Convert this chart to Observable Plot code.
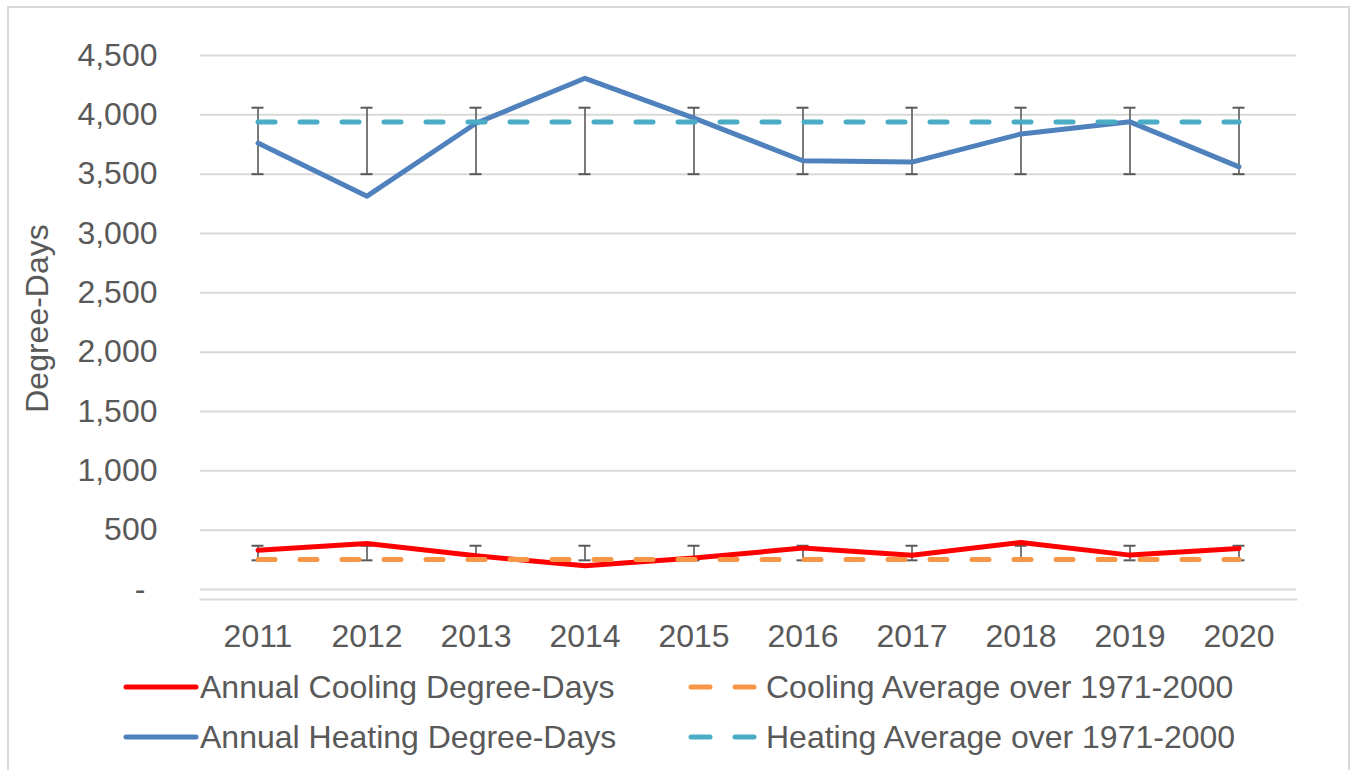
<!DOCTYPE html>
<html><head><meta charset="utf-8">
<script src="https://cdn.jsdelivr.net/npm/d3@7"></script>
<script src="https://cdn.jsdelivr.net/npm/@observablehq/plot@0.6"></script>
<style>
body{margin:0;background:#fff;font-family:"Liberation Sans",Arial,sans-serif;color:#595959;width:1354px;height:770px;overflow:hidden;position:relative}
#frame{position:absolute;left:7px;top:6px;width:1343px;height:790px;border:2px solid #D9D9D9;box-sizing:border-box}
#chart{position:absolute;left:0;top:0}
.leg{position:absolute;font-size:32px;line-height:36px;white-space:nowrap;color:#595959}
.sw{position:absolute}
</style></head><body>
<div id="frame"></div>
<div id="chart"></div>
<div id="legend"></div>
<script>
const years = ["2011","2012","2013","2014","2015","2016","2017","2018","2019","2020"];
const coolingDD = [332, 388, 284, 201, 266, 349, 288, 397, 290, 346];
const heatingDD = [3762, 3315, 3929, 4308, 3972, 3613, 3602, 3839, 3941, 3562];
const coolingAvg = [254, 254, 254, 254, 254, 254, 254, 254, 254, 254];
const heatingAvg = [3940, 3940, 3940, 3940, 3940, 3940, 3940, 3940, 3940, 3940];
const coolingErrLow = [246, 246, 246, 246, 246, 246, 246, 246, 246, 246];
const coolingErrHigh = [369, 369, 369, 369, 369, 369, 369, 369, 369, 369];
const heatingErrLow = [3500, 3500, 3500, 3500, 3500, 3500, 3500, 3500, 3500, 3500];
const heatingErrHigh = [4060, 4060, 4060, 4060, 4060, 4060, 4060, 4060, 4060, 4060];
const yTicks = [500, 1000, 1500, 2000, 2500, 3000, 3500, 4000, 4500];
const seriesNames = ["Annual Cooling Degree-Days", "Cooling Average over 1971-2000", "Annual Heating Degree-Days", "Heating Average over 1971-2000"];
const seriesColors = ["#FF0000", "#F79646", "#4F81BD", "#4BACC6"];
const yTitle = "Degree-Days";

const rows = years.map((year, i) => ({
  year,
  cool: coolingDD[i], heat: heatingDD[i],
  coolAvg: coolingAvg[i], heatAvg: heatingAvg[i],
  cLo: coolingErrLow[i], cHi: coolingErrHigh[i],
  hLo: heatingErrLow[i], hHi: heatingErrHigh[i]
}));

const errStyle = {stroke: "#595959", strokeWidth: 1.6};
const capStyle = {stroke: "#595959", strokeWidth: 2, insetLeft: 48.5, insetRight: 48.5};
const lineStyle = {strokeWidth: 5, strokeLinecap: "round", strokeLinejoin: "round"};
const dashStyle = {strokeWidth: 5, strokeLinecap: "round", strokeDasharray: "17,25"};
const fmt = d3.format(",");

const chart = Plot.plot({
  width: 1354,
  height: 660,
  marginLeft: 200,
  marginRight: 58,
  marginTop: 55,
  marginBottom: 61,
  style: {fontFamily: '"Liberation Sans", Arial, sans-serif', fontSize: "32px", color: "#595959", background: "transparent"},
  x: {type: "band", domain: years, padding: 0, label: null},
  y: {domain: [-84, 4500], label: null},
  marks: [
    Plot.ruleY([0, ...yTicks], {stroke: "#D9D9D9", strokeWidth: 2, strokeOpacity: 1}),
    Plot.frame({anchor: "bottom", stroke: "#D9D9D9", strokeWidth: 2}),
    Plot.ruleX(rows, {x: "year", y1: "hLo", y2: "hHi", ...errStyle}),
    Plot.tickY(rows, {x: "year", y: "hLo", ...capStyle}),
    Plot.tickY(rows, {x: "year", y: "hHi", ...capStyle}),
    Plot.ruleX(rows, {x: "year", y1: "cLo", y2: "cHi", ...errStyle}),
    Plot.tickY(rows, {x: "year", y: "cLo", ...capStyle}),
    Plot.tickY(rows, {x: "year", y: "cHi", ...capStyle}),
    Plot.line(rows, {x: "year", y: "heat", stroke: seriesColors[2], ...lineStyle}),
    Plot.line(rows, {x: "year", y: "cool", stroke: seriesColors[0], ...lineStyle}),
    Plot.line(rows, {x: "year", y: "heatAvg", stroke: seriesColors[3], ...dashStyle}),
    Plot.line(rows, {x: "year", y: "coolAvg", stroke: seriesColors[1], ...dashStyle}),
    Plot.axisX({tickSize: 0, tickPadding: 25, fontSize: 32, label: null}),
    Plot.axisY({ticks: yTicks, tickSize: 0, tickPadding: 43, tickFormat: fmt, fontSize: 32, label: null}),
    Plot.axisY({ticks: [0], tickSize: 0, tickPadding: 55, tickFormat: () => "-", fontSize: 32, label: null}),
    Plot.text([yTitle], {text: d => d, frameAnchor: "left", rotate: -90, dx: -163, dy: -9,
      fontSize: 32, fill: "#595959", textAnchor: "middle", lineAnchor: "middle"})
  ]
});
document.getElementById("chart").appendChild(chart);

// legend
const legend = document.getElementById("legend");
const items = [
  {name: seriesNames[0], color: seriesColors[0], dashed: false, sx: 120, tx: 200, cy: 687},
  {name: seriesNames[1], color: seriesColors[1], dashed: true, sx: 684, tx: 766, cy: 687},
  {name: seriesNames[2], color: seriesColors[2], dashed: false, sx: 120, tx: 200, cy: 737},
  {name: seriesNames[3], color: seriesColors[3], dashed: true, sx: 684, tx: 766, cy: 737}
];
for (const it of items) {
  const svg = d3.create("svg").attr("class", "sw").attr("width", 80).attr("height", 12)
    .style("left", it.sx + "px").style("top", (it.cy - 6) + "px");
  if (it.dashed) {
    svg.append("line").attr("x1", 7).attr("x2", 26).attr("y1", 6).attr("y2", 6)
      .attr("stroke", it.color).attr("stroke-width", 5).attr("stroke-linecap", "round");
    svg.append("line").attr("x1", 51).attr("x2", 70).attr("y1", 6).attr("y2", 6)
      .attr("stroke", it.color).attr("stroke-width", 5).attr("stroke-linecap", "round");
  } else {
    svg.append("line").attr("x1", 6).attr("x2", 76).attr("y1", 6).attr("y2", 6)
      .attr("stroke", it.color).attr("stroke-width", 5).attr("stroke-linecap", "round");
  }
  legend.appendChild(svg.node());
  const d = document.createElement("div");
  d.className = "leg";
  d.style.left = it.tx + "px";
  d.style.top = (it.cy - 18) + "px";
  d.textContent = it.name;
  legend.appendChild(d);
}
</script>
</body></html>
